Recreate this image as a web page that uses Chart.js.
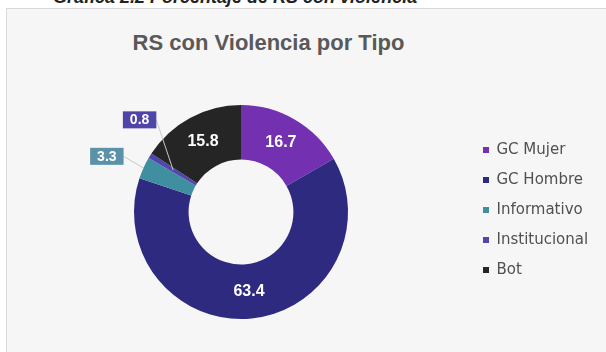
<!DOCTYPE html>
<html>
<head>
<meta charset="utf-8">
<script src="https://cdn.jsdelivr.net/npm/chart.js@4.4.1/dist/chart.umd.min.js"></script>
<style>
  html, body { margin: 0; padding: 0; background: #ffffff; }
  #wrap { position: relative; width: 606px; height: 352px; overflow: hidden; }
  #card {
    position: absolute; left: 6px; top: 8px; width: 610px; height: 350px;
    background: #f6f6f6; border: 1px solid #d9d9d9; box-sizing: border-box;
  }
  #caption {
    position: absolute; left: 53px; top: -13px; line-height: 18px;
    font: italic bold 18px "Liberation Sans", Arial, sans-serif; color: #222;
    white-space: nowrap;
  }
  #titulo {
    position: absolute; left: 0; width: 537px; top: 30px; line-height: 22px;
    text-align: center; font: bold 22px "Liberation Sans", Arial, sans-serif;
    color: #595959; white-space: nowrap;
  }
  #graf { position: absolute; left: 0; top: 0; }
</style>
</head>
<body>
<div id="wrap">
  <div id="caption">Gráfica 2.2 Porcentaje de RS con violencia</div>
  <div id="card"></div>
  <div id="titulo">RS con Violencia por Tipo</div>
  <canvas id="graf" width="606" height="352"></canvas>
</div>
<script>
// datos (porcentajes)
const categorias = ['GC Mujer', 'GC Hombre', 'Informativo', 'Institucional', 'Bot'];
const valores = [16.7, 63.4, 3.3, 0.8, 15.8];

// colores de cada rebanada
const colores = ['#7330b0', '#2e2a80', '#3f8fa0', '#5146ad', '#252525'];

// etiquetas de valor: dentro del anillo si caben, en cajita fuera si no
const etiquetasPlugin = {
    id: 'etiquetas',
    afterDatasetsDraw(chart, args, opts) {
        const ctx = chart.ctx;
        const meta = chart.getDatasetMeta(0);
        const ds = chart.data.datasets[0];
        meta.data.forEach((arc, i) => {
            const v = ds.data[i];
            const p = arc.getProps(['x', 'y', 'startAngle', 'endAngle', 'innerRadius', 'outerRadius'], true);
            const mid = (p.startAngle + p.endAngle) / 2;
            const txt = v.toFixed(1);
            ctx.save();
            if (v >= opts.minDentro) {
                const c = arc.getCenterPoint();
                ctx.font = 'bold 16px "Liberation Sans", Arial, sans-serif';
                ctx.fillStyle = '#ffffff';
                ctx.textAlign = 'center';
                ctx.textBaseline = 'middle';
                ctx.fillText(txt, c.x, c.y);
            } else {
                const r = p.outerRadius + opts.distancia;
                const nud = opts.ajuste[i] || [0, 0];
                const bx = p.x + Math.cos(mid) * r + nud[0];
                const by = p.y + Math.sin(mid) * r + nud[1];
                ctx.font = 'bold 14px "Liberation Sans", Arial, sans-serif';
                const w = ctx.measureText(txt).width + 14;
                const h = 17;
                // linea guía
                const rl = p.outerRadius - (p.outerRadius - p.innerRadius) * (opts.profundidad[i] || 0);
                ctx.strokeStyle = '#c8c8c8';
                ctx.lineWidth = 1;
                ctx.beginPath();
                ctx.moveTo(bx + w / 2, by);
                ctx.lineTo(p.x + Math.cos(mid) * rl, p.y + Math.sin(mid) * rl);
                ctx.stroke();
                ctx.fillStyle = opts.cajas[i] || ds.backgroundColor[i];
                ctx.fillRect(bx - w / 2, by - h / 2, w, h);
                ctx.fillStyle = '#ffffff';
                ctx.textAlign = 'center';
                ctx.textBaseline = 'middle';
                ctx.fillText(txt, bx, by + 0.5);
            }
            ctx.restore();
        });
    }
};

new Chart(document.getElementById('graf'), {
    type: 'doughnut',
    data: {
        labels: categorias,
        datasets: [{
            data: valores,
            backgroundColor: colores,
            borderWidth: 0,
            hoverOffset: 0,
            radius: 107,
            cutout: '49%'
        }]
    },
    options: {
        responsive: false,
        devicePixelRatio: 1,
        animation: false,
        events: [],
        layout: { padding: { left: 14, right: 10, top: 127.5, bottom: 55.5 } },
        plugins: {
            tooltip: { enabled: false },
            legend: {
                position: 'right',
                align: 'start',
                maxWidth: 128,
                labels: {
                    boxWidth: 6,
                    boxHeight: 6,
                    padding: 15,
                    color: '#505050',
                    font: { family: '"DejaVu Sans", sans-serif', size: 15 }
                }
            },
            etiquetas: {
                minDentro: 5,
                distancia: 38,
                ajuste: { 2: [-2, 4], 3: [22, -16] },
                profundidad: { 2: 0, 3: 0.5 },
                cajas: { 2: '#5b92a8', 3: '#4f45a8' }
            }
        }
    },
    plugins: [etiquetasPlugin]
});
</script>
</body>
</html>
